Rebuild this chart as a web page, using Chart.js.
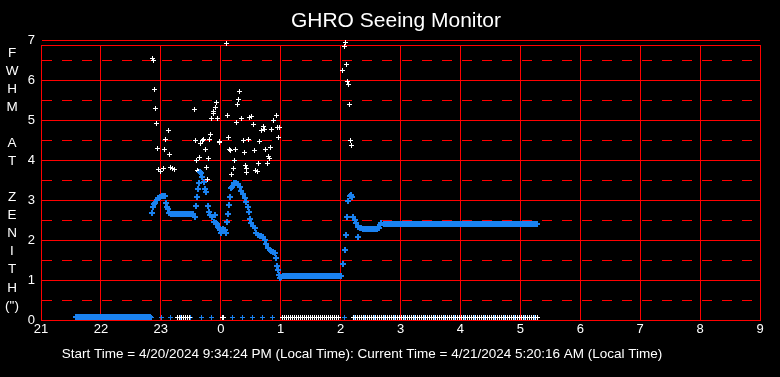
<!DOCTYPE html>
<html>
<head>
<meta charset="utf-8">
<script src="https://cdn.jsdelivr.net/npm/chart.js"></script>
<style>
html,body{margin:0;padding:0;background:#000;}
canvas{display:block;}
</style>
</head>
<body>
<canvas id="c" width="780" height="377"></canvas>
<script>
// ---------- texts ----------
const chartTitle = 'GHRO Seeing Monitor';
const footerText = 'Start Time = 4/20/2024 9:34:24 PM (Local Time): Current Time = 4/21/2024 5:20:16 AM (Local Time)';
const yAxisLetters = ['F','W','H','M','','A','T','','Z','E','N','I','T','H','(")'];
const xTickLabels = ['21','22','23','0','1','2','3','4','5','6','7','8','9'];
const startHour = 21;          // minutes below are counted from 21:00 local time
const yTopLabel = 7;           // label printed just above the plot frame
const yFrameTop = 6.875;       // value at the top edge of the plot frame

// ---------- raw FWHM measurements (white) ----------
const whiteMinutes = [111.7,112.3,113.3,114.3,115.3,116.3,118,119.7,122.3,123.3,125,127.3,128.3,129.7,131.7,133.3,
  153.3,154.3,155.7,156.7,157.3,159,160,161.7,163,164.3,165.3,166.3,167.7,168.3,169.3,170.3,172.3,173,174.3,175.3,176.3,178.3,179,
  185.3,186.3,187.3,188.3,189.7,190.3,192.3,193.3,194.3,195.3,196.3,197.3,199,200.3,202.3,203.3,204.3,205.3,205.7,207.3,209,210.3,
  212.3,213.3,215,216.7,218.3,219.3,221,223,224.3,225.3,226.7,228.3,229,230.3,231.3,233.3,235.7,237.3,238.3,239,
  302.3,304.3,305.3,306.3,307.3,308.3,309.3,310.3,311.3];
const whiteValues = [6.54,6.5,5.77,5.29,4.92,4.29,3.77,3.71,3.79,4.27,4.52,4.74,4.14,3.82,3.79,3.77,
  5.27,4.5,4.0,3.75,3.71,4.07,4.42,4.5,4.52,4.27,3.82,3.52,4.04,4.52,4.64,5.03,5.17,5.21,5.32,5.44,5.04,4.44,4.46,
  6.92,5.12,4.57,4.27,4.23,3.65,3.79,4.0,4.27,4.94,5.39,5.52,5.71,5.04,4.48,4.19,3.87,3.69,3.79,4.52,5.06,5.09,
  4.89,4.24,3.75,3.71,3.92,4.47,4.74,4.85,4.77,4.27,3.92,4.1,4.04,4.32,4.77,4.98,5.12,4.82,4.57,4.81,
  6.24,6.85,6.94,6.38,5.96,5.9,5.39,4.49,4.37];

// ---------- smoothed FWHM (blue) ----------
const blueMinutes = [111.3,112.3,113.3,114.3,115.7,117.3,119,120.7,122.3,123.7,125,126.3,127.3,128.3,130.3,132,
  134,136,138,140,142,144,146,148,150,152,
  154,155.3,156.3,157.3,158.3,159,160,161,163,164.3,165.7,167.3,168.3,169.7,171,173,174,175,176.3,177.3,178.3,179.7,180.7,182.3,184,185.3,
  186.3,187.3,188.3,189.3,189.9,191.7,193,195.7,197.3,199,200.7,202.3,204,205.7,207.3,208.3,209.7,210.7,212.3,214,215.7,217.3,219,220.7,
  222.3,224,225.7,227.3,229,230.7,232.3,234,235.3,236.3,237.3,238.3,239,240.7,242,
  244,246,248,250,252,254,256,258,260,262,264,266,268,270,272,274,276,278,280,282,284,286,288,290,292,294,296,298,300,
  302.3,304.3,305.3,306.3,307.3,309,310.3,311,312.3,314.3,315.7,317,317.7,319,320.7,
  322,324,326,328,330,332,334,336,
  338,339,340.7,
  343,345,347,349,351,353,355,357,359,361,363,365,367,
  369,371,373,375,377,379,381,383,385,387,389,391,393,
  395,397,399,401,403,405,407,409,411,413,415,417,419,
  421,423,425,427,429,431,433,435,437,439,441,443,445,
  447,449,451,453,455,457,459,461,463,465,467,469,471,
  473,475,477,479,481,483,485,487,489,491,493,495,497];
const blueValues = [2.67,2.82,2.89,2.93,3.0,3.06,3.08,3.1,3.11,3.1,2.93,2.83,2.77,2.68,2.65,2.65,
  2.65,2.65,2.65,2.65,2.65,2.65,2.65,2.65,2.65,2.65,
  2.58,2.86,3.08,3.27,3.42,3.71,3.67,3.58,3.46,3.28,3.21,2.85,2.71,2.63,2.57,2.46,2.63,2.43,2.4,2.32,2.29,2.25,2.17,2.28,2.25,2.18,
  2.44,2.64,2.88,3.07,3.29,3.33,3.42,3.43,3.4,3.33,3.22,3.14,3.06,2.95,2.83,2.69,2.53,2.42,2.35,2.29,2.18,2.13,2.11,2.1,
  2.08,2.0,1.9,1.81,1.75,1.72,1.71,1.68,1.54,1.35,1.25,1.13,1.04,1.08,1.11,
  1.11,1.11,1.11,1.11,1.11,1.11,1.11,1.11,1.11,1.11,1.11,1.11,1.11,1.11,1.11,1.11,1.11,1.11,1.11,1.11,1.11,1.11,1.11,1.11,1.11,1.11,1.11,1.11,1.11,
  1.39,1.74,2.12,2.57,2.97,3.1,3.12,3.07,2.57,2.49,2.42,2.33,2.07,2.29,2.29,
  2.28,2.28,2.28,2.28,2.28,2.28,2.28,2.28,
  2.3,2.37,2.43,
  2.4,2.4,2.4,2.4,2.4,2.4,2.4,2.4,2.4,2.4,2.4,2.4,2.4,
  2.4,2.4,2.4,2.4,2.4,2.4,2.4,2.4,2.4,2.4,2.4,2.4,2.4,
  2.4,2.4,2.4,2.4,2.4,2.4,2.4,2.4,2.4,2.4,2.4,2.4,2.4,
  2.4,2.4,2.4,2.4,2.4,2.4,2.4,2.4,2.4,2.4,2.4,2.4,2.4,
  2.4,2.4,2.4,2.4,2.4,2.4,2.4,2.4,2.4,2.4,2.4,2.4,2.4,
  2.4,2.4,2.4,2.4,2.4,2.4,2.4,2.4,2.4,2.4,2.4,2.4,2.4];

// ---------- samples with value 0 ----------
const whiteZeroMinutes = [137,139,141,143,145,147,149,
  181.3,182.7,
  242,244,246,248,250,252,254,256,258,260,262,264,266,268,270,272,274,276,278,280,282,284,286,288,290,292,294,296,298,
  313,315,317,319,321,323,325,327,329,331,333,335,337,339,341,343,345,347,349,351,353,355,357,359,361,363,
  365,367,369,371,373,375,377,379,381,383,385,387,389,391,393,395,397,399,401,403,405,407,409,411,413,415,
  417,419,421,423,425,427,429,431,433,435,437,439,441,443,445,447,449,451,453,455,457,459,461,463,465,467,
  469,471,473,475,477,479,481,483,485,487,489,491,493,495,497];
const blueZeroRunMinutes = [35,37,39,41,43,45,47,49,51,53,55,57,59,61,63,65,67,69,71,73,75,77,79,81,83,85,87,89,91,93,
  95,97,99,101,103,105,107,109];
const blueZeroMarkMinutes = [110.7,120.7,130,140,150,161,171,181.5,191.5,201.5,211.5,222,232,242,252,262,272,282,292,
  304,314,324,334,344,354,364,374,384,394,404,414,424,434,444,454,464,474,484,494];

// ---------- styling ----------
const RED = '#ff0000';
const BLUE = '#1a82f0';
const WHITE = '#ffffff';
const FONT = '"Liberation Sans", Arial, sans-serif';

const toHour = m => startHour + m / 60;
const pts = (mins, vals) => mins.map((m, i) => ({x: toHour(m), y: vals[i]}));
const zeroPts = mins => mins.map(m => ({x: toHour(m), y: 0}));

// small "+" marker image whose centre sits `lift` px above the data point
function crossImage(color, arm, thick, lift) {
  const size = 2 * arm + thick;
  const c = document.createElement('canvas');
  c.width = size;
  c.height = size + 2 * lift;
  const g = c.getContext('2d');
  g.fillStyle = color;
  g.fillRect(arm, 0, thick, size);
  g.fillRect(0, arm, size, thick);
  return c;
}

const textPlugin = {
  id: 'texts',
  beforeDatasetsDraw(chart) { chart.ctx.imageSmoothingEnabled = false; },
  afterDraw(chart) {
    const ctx = chart.ctx;
    ctx.save();
    ctx.fillStyle = WHITE;
    ctx.textAlign = 'center';
    ctx.textBaseline = 'middle';
    ctx.font = '21px ' + FONT;
    ctx.fillText(chartTitle, 396, 21);
    ctx.font = '13.5px ' + FONT;
    yAxisLetters.forEach((t, i) => { if (t) ctx.fillText(t, 12, 53.3 + i * 18.04); });
    ctx.fillText(footerText, 362, 354);
    ctx.restore();
  }
};

const isHalf = v => Math.abs(v * 2 - Math.round(v * 2)) < 1e-9 && !Number.isInteger(v);

new Chart(document.getElementById('c'), {
  type: 'scatter',
  data: {
    datasets: [
      {label: 'Smoothed FWHM', data: pts(blueMinutes, blueValues), pointStyle: crossImage(BLUE, 2, 2, 0), pointRadius: 4, clip: false, order: 0},
      {label: 'FWHM', data: pts(whiteMinutes, whiteValues), pointStyle: crossImage(WHITE, 2, 1, 0), pointRadius: 4, clip: false, order: 1},
      {label: 'FWHM = 0', data: zeroPts(whiteZeroMinutes), pointStyle: crossImage(WHITE, 2, 1, 2.5), pointRadius: 3, order: 2},
      {label: 'Smoothed = 0', data: zeroPts(blueZeroRunMinutes), pointStyle: crossImage(BLUE, 2, 2, 3), pointRadius: 3, order: 3},
      {label: 'Marks', data: zeroPts(blueZeroMarkMinutes), pointStyle: crossImage(BLUE, 2, 1, 2.5), pointRadius: 3, order: 4}
    ]
  },
  options: {
    responsive: false,
    animation: false,
    devicePixelRatio: 1,
    events: [],
    layout: {padding: {left: 0, right: 20, top: 45, bottom: 0}},
    plugins: {
      legend: {display: false},
      tooltip: {enabled: false},
      title: {display: false}
    },
    scales: {
      x: {
        type: 'linear', min: 21, max: 33,
        afterFit(s) { s.height = 57; },
        ticks: {
          stepSize: 1, autoSkip: false, maxRotation: 0, color: WHITE, padding: 2,
          font: {family: FONT, size: 13},
          callback: v => xTickLabels[Math.round(v - 21)]
        },
        grid: {color: RED, lineWidth: 1, drawTicks: false},
        border: {color: RED, width: 1}
      },
      y: {
        min: 0, max: yFrameTop + 1e-7,   // tiny epsilon keeps grid lines on whole pixels
        afterFit(s) { s.width = 41; },
        afterBuildTicks(s) {
          s.ticks = s.ticks.filter(t => t.value < yFrameTop).concat([{value: yFrameTop}, {value: yTopLabel}]);
        },
        ticks: {
          stepSize: 0.5, autoSkip: false, color: WHITE, padding: 6,
          font: {family: FONT, size: 13},
          callback: v => Number.isInteger(v) ? String(v) : ''
        },
        grid: {color: RED, lineWidth: 1, drawTicks: false},
        border: {
          color: RED, width: 1,
          dash: ctx => (ctx.tick && isHalf(ctx.tick.value)) ? [10, 10] : []
        }
      }
    }
  },
  plugins: [textPlugin]
});
</script>
</body>
</html>
